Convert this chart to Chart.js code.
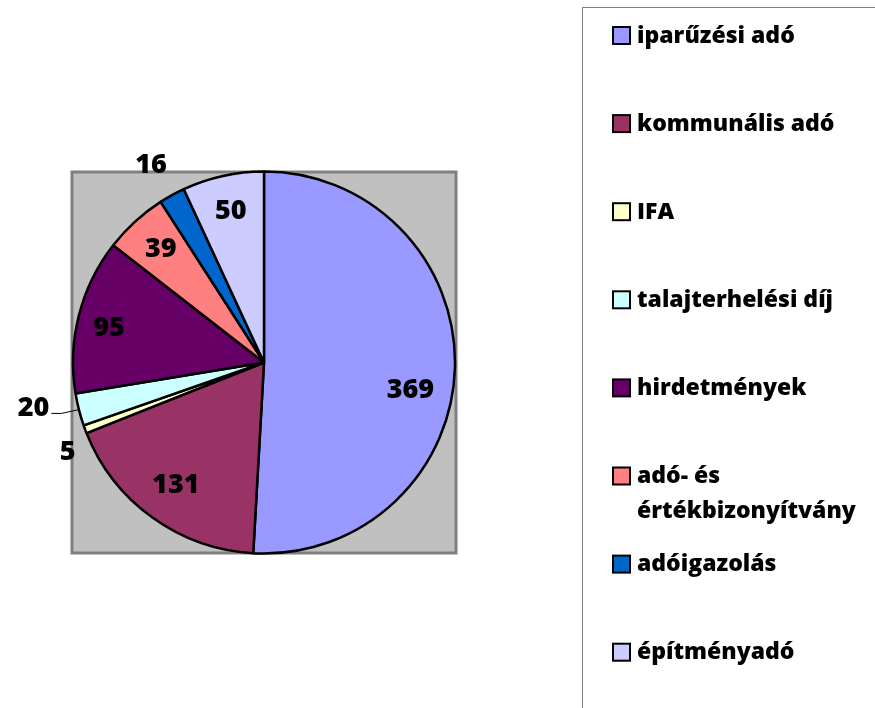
<!DOCTYPE html>
<html>
<head>
<meta charset="utf-8">
<script src="https://cdn.jsdelivr.net/npm/chart.js@4.4.1/dist/chart.umd.min.js"></script>
<style>
  html, body { margin: 0; padding: 0; background: #fff; }
  #wrap { width: 875px; height: 708px; position: relative; }
</style>
</head>
<body>
<div id="wrap"><canvas id="chart" width="875" height="708"></canvas></div>
<script>
/* ── Data ── */
const categories = [
  "iparűzési adó",
  "kommunális adó",
  "IFA",
  "talajterhelési díj",
  "hirdetmények",
  ["adó- és", "értékbizonyítvány"],
  "adóigazolás",
  "építményadó"
];
const amounts = [369, 131, 5, 20, 95, 39, 16, 50];
const sliceColors = ["#9999FF", "#993366", "#FFFFCC", "#CCFFFF", "#660066", "#FF8080", "#0066CC", "#CCCCFF"];

/* ── Label placement (radius factor, angle shift in degrees) ── */
const labelRadius = [0.78, 0.79, 1.13, 1.23, 0.83, 0.80, 1.19, 0.81];
const labelShift  = [9, 0, -4, 3, -2, 0, -1, 0];
const FONT = "'Open Sans', Lato, sans-serif";

/* ── Gray plot-area background ── */
const plotBg = {
  id: "plotBg",
  beforeDraw(chart) {
    const { ctx, chartArea: a } = chart;
    ctx.save();
    ctx.fillStyle = "#C0C0C0";
    ctx.fillRect(a.left, a.top, a.right - a.left, a.bottom - a.top);
    ctx.strokeStyle = "#808080";
    ctx.lineWidth = 3;
    ctx.strokeRect(a.left, a.top, a.right - a.left, a.bottom - a.top);
    ctx.restore();
  }
};

/* ── Value labels ── */
const valueLabels = {
  id: "valueLabels",
  afterDatasetsDraw(chart) {
    const { ctx } = chart;
    const meta = chart.getDatasetMeta(0);
    ctx.save();
    ctx.font = "800 27px " + FONT;
    ctx.fillStyle = "#000";
    ctx.textAlign = "center";
    ctx.textBaseline = "middle";
    meta.data.forEach((arc, i) => {
      const mid = (arc.startAngle + arc.endAngle) / 2 + labelShift[i] * Math.PI / 180;
      const r = arc.outerRadius * labelRadius[i];
      const x = arc.x + Math.cos(mid) * r;
      const y = arc.y + Math.sin(mid) * r;
      ctx.fillText(String(amounts[i]), x, y);
      if (labelRadius[i] > 1.2) {
        // leader line back to the slice edge
        const am = (arc.startAngle + arc.endAngle) / 2;
        const ex = arc.x + Math.cos(am) * arc.outerRadius;
        const ey = arc.y + Math.sin(am) * arc.outerRadius;
        const w = ctx.measureText(String(amounts[i])).width;
        ctx.beginPath();
        ctx.lineWidth = 1;
        ctx.strokeStyle = "#000";
        ctx.moveTo(x + w / 2 + 2, y + 5);
        ctx.lineTo(x + w / 2 + 12, y + 5);
        ctx.lineTo(ex, ey);
        ctx.stroke();
      }
    });
    ctx.restore();
  }
};

/* ── Legend box on the right ── */
const sideLegend = {
  id: "sideLegend",
  afterDraw(chart) {
    const { ctx } = chart;
    ctx.save();
    ctx.strokeStyle = "#808080";
    ctx.lineWidth = 1;
    ctx.strokeRect(582.5, 7.5, 320, 720);
    ctx.font = "800 23px " + FONT;
    ctx.textBaseline = "middle";
    ctx.textAlign = "left";
    categories.forEach((lab, i) => {
      const cy = 35 + i * 88.1;
      ctx.fillStyle = sliceColors[i];
      ctx.fillRect(613, cy - 8, 17, 17);
      ctx.lineWidth = 2;
      ctx.strokeStyle = "#000";
      ctx.strokeRect(613, cy - 8, 17, 17);
      ctx.fillStyle = "#000";
      const lines = Array.isArray(lab) ? lab : [lab];
      lines.forEach((t, k) => ctx.fillText(t, 637, cy + 1 + k * 35));
    });
    ctx.restore();
  }
};

new Chart(document.getElementById("chart"), {
  type: "pie",
  data: {
    labels: categories,
    datasets: [{
      data: amounts,
      backgroundColor: sliceColors,
      borderColor: "#000",
      borderWidth: 2.5
    }]
  },
  options: {
    responsive: false,
    animation: false,
    radius: 191,
    layout: { padding: { left: 72, right: 419, top: 172, bottom: 155 } },
    plugins: {
      legend: { display: false },
      tooltip: { enabled: false }
    }
  },
  plugins: [plotBg, valueLabels, sideLegend]
});
</script>
</body>
</html>
